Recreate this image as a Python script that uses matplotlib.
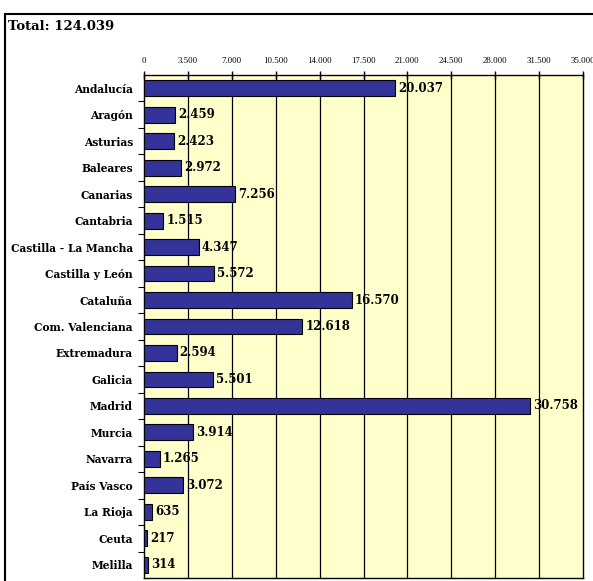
import matplotlib
matplotlib.use("Agg")
import matplotlib.pyplot as plt
from matplotlib.patches import Rectangle
from matplotlib.ticker import FixedLocator

# Datos por comunidad
comunidades = ["Andalucía", "Aragón", "Asturias", "Baleares", "Canarias", "Cantabria",
               "Castilla - La Mancha", "Castilla y León", "Cataluña", "Com. Valenciana",
               "Extremadura", "Galicia", "Madrid", "Murcia", "Navarra", "País Vasco",
               "La Rioja", "Ceuta", "Melilla"]
valores = [20037, 2459, 2423, 2972, 7256, 1515, 4347, 5572, 16570, 12618,
           2594, 5501, 30758, 3914, 1265, 3072, 635, 217, 314]
ticks_x = [0, 3500, 7000, 10500, 14000, 17500, 21000, 24500, 28000, 31500, 35000]
titulo = "Total: 124.039"


def miles(v):
    return f"{v:,}".replace(",", ".")


fig = plt.figure(figsize=(5.93, 5.81), dpi=100)

# Marco exterior
fig.patches.append(Rectangle((5 / 593, -0.05), 1.2, 1.05 - 14 / 581, transform=fig.transFigure,
                             fill=False, edgecolor="black", linewidth=1.5))
fig.text(8 / 593, 1 - 27 / 581, titulo, fontsize=9.5, fontweight="bold",
         family="DejaVu Serif", va="center", ha="left")

ax = fig.add_axes([144 / 593, 1 - 578 / 581, 439 / 593, 503 / 581])
ax.set_facecolor("#FFFFCC")

y = list(range(len(comunidades)))
ax.barh(y, valores, height=0.6, color="#333399", edgecolor="black", linewidth=0.8, zorder=3)

for yi, v in zip(y, valores):
    ax.text(v + 250, yi, miles(v), va="center", ha="left", fontsize=8.5,
            fontweight="bold", family="DejaVu Serif", zorder=4)

ax.set_xlim(0, 35000)
ax.set_ylim(len(comunidades) - 0.5, -0.5)

ax.xaxis.tick_top()
ax.set_xticks(ticks_x)
ax.set_xticklabels([miles(t) for t in ticks_x], fontsize=6.3, family="Liberation Serif")
ax.tick_params(axis="x", direction="inout", length=6, width=1, pad=4)
for t in ticks_x[1:-1]:
    ax.axvline(t, color="black", linewidth=0.9, zorder=1)

ax.set_yticks(y)
ax.set_yticklabels(comunidades, fontsize=7.7, fontweight="bold", family="DejaVu Serif")
ax.tick_params(axis="y", which="major", length=0, pad=8)
ax.yaxis.set_minor_locator(FixedLocator([i + 0.5 for i in range(len(comunidades) - 1)]))
ax.tick_params(axis="y", which="minor", direction="out", length=4, width=0.8)

for s in ax.spines.values():
    s.set_linewidth(1)
    s.set_color("black")

plt.savefig("out.png", dpi=100)
